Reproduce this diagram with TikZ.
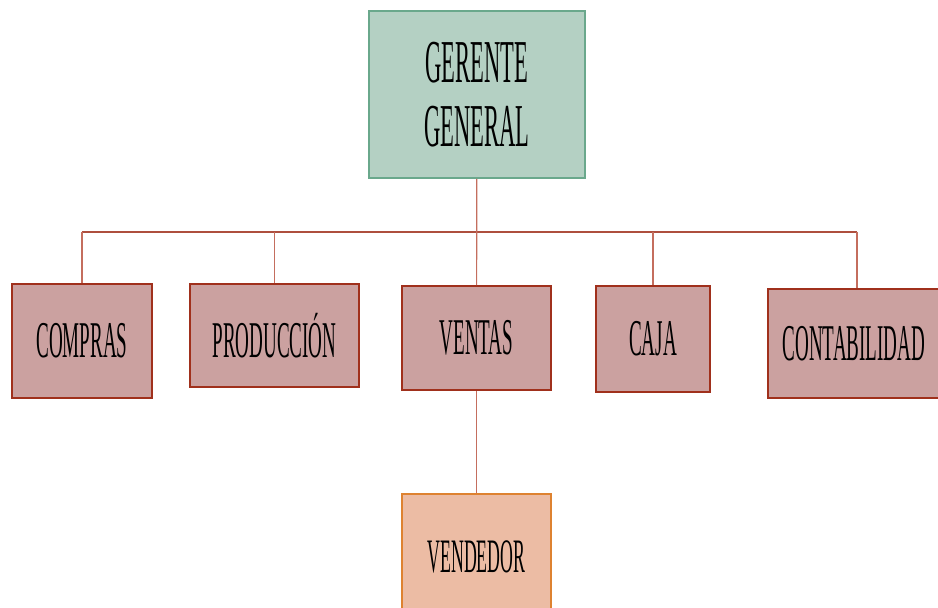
\documentclass[tikz,border=0pt]{standalone}
\usepackage{fontspec}
\newfontfamily\orgfont[FakeStretch=0.37]{Liberation Serif}
\usepackage{tikz}
\usetikzlibrary{positioning}

\definecolor{verdeFondo}{RGB}{180,208,195}
\definecolor{verdeBorde}{RGB}{106,168,140}
\definecolor{rojoFondo}{RGB}{203,161,160}
\definecolor{rojoBorde}{RGB}{160,48,28}
\definecolor{rojoLinea}{RGB}{196,110,94}
\definecolor{naranjaFondo}{RGB}{236,188,164}
\definecolor{naranjaBorde}{RGB}{222,130,48}

\begin{document}
\begin{tikzpicture}[
    % GLOBAL CFG
    x=0.03cm, y=-0.03cm,
    % Styles
    jefe/.style={% For the top box
        rectangle,
        draw=verdeBorde,
        fill=verdeFondo,
        line width=1.4pt,
        align=center,
        font=\orgfont\fontsize{52}{55}\selectfont,
        },
    area/.style={% For the department boxes
        rectangle,
        draw=rojoBorde,
        fill=rojoFondo,
        line width=1.3pt,
        font=\orgfont\fontsize{44}{46}\selectfont,
        },
    puesto/.style={% For the bottom box
        rectangle,
        draw=naranjaBorde,
        fill=naranjaFondo,
        line width=1.3pt,
        font=\orgfont\fontsize{41}{44}\selectfont,
        },
    linea/.style={% Thin connectors
        draw=rojoLinea,
        line width=1pt,
        },
    barra/.style={% The horizontal bar
        draw=rojoBorde!85!white,
        line width=1.6pt,
        },
    ]

    \clip (0,0) rectangle (938,608);

    % Draw the boxes
    \node [jefe, minimum width=6.48cm, minimum height=5.01cm] (gerente) at (477,94.5) {GERENTE\\GENERAL};

    \node [area, minimum width=4.2cm, minimum height=3.42cm] (compras) at (82,341) {COMPRAS};
    \node [area, minimum width=5.07cm, minimum height=3.09cm] (produccion) at (274.5,335.5) {PRODUCCIÓN};
    \node [area, minimum width=4.47cm, minimum height=3.12cm] (ventas) at (476.5,338) {VENTAS};
    \node [area, minimum width=3.42cm, minimum height=3.18cm] (caja) at (653,339) {CAJA};
    \node [area, minimum width=5.16cm, minimum height=3.27cm] (contabilidad) at (854,343.5) {CONTABILIDAD};

    \node [puesto, minimum width=4.47cm, minimum height=3.78cm] (vendedor) at (476.5,557) {VENDEDOR};

    % The bar and its right end
    \coordinate (bus) at (477,232);
    \coordinate (fin) at ([xshift=0.09cm]contabilidad.north);

    % Start connecting all.
    \draw [barra] (compras.north |- bus) -- (fin |- bus);
    \draw [linea] (gerente) -- (ventas);
    \draw [linea] (compras) -- (compras.north |- bus);
    \draw [linea] (produccion) -- (produccion.north |- bus);
    \draw [linea] (caja) -- (caja.north |- bus);
    \draw [linea] (fin) -- (fin |- bus);
    \draw [linea] (ventas) -- (vendedor);

  \end{tikzpicture}
\end{document}
